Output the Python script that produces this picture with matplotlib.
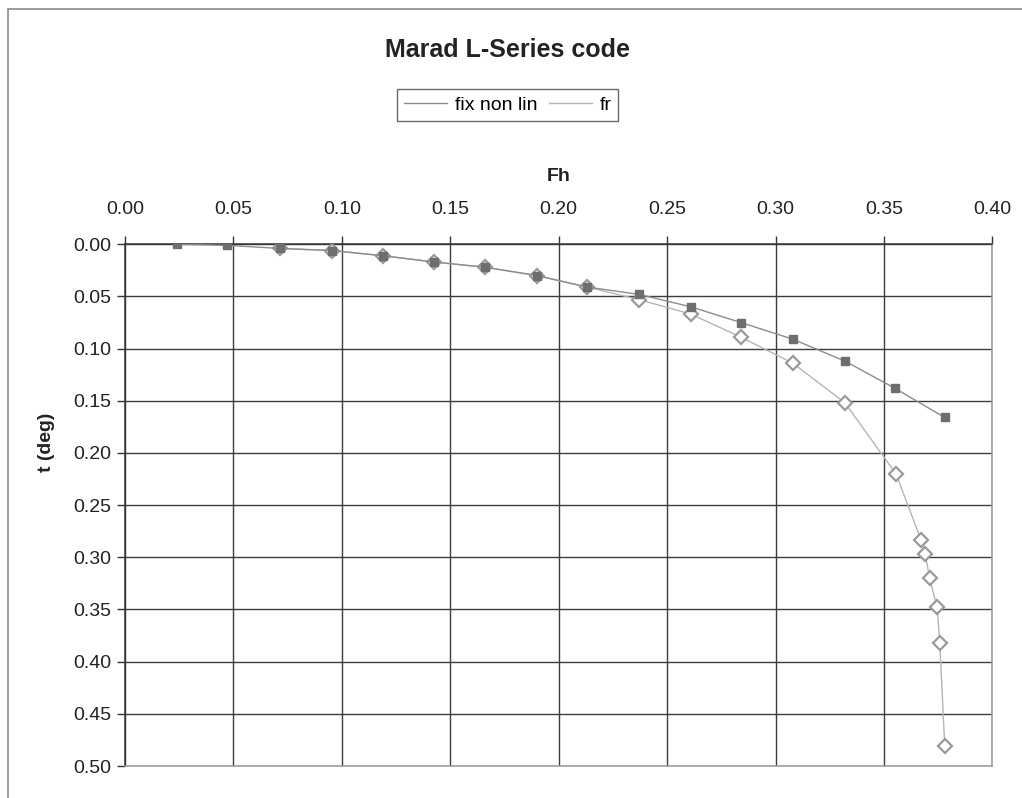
import matplotlib
matplotlib.use("Agg")
import matplotlib.pyplot as plt
from matplotlib.lines import Line2D
from matplotlib.patches import Rectangle

# Froude number (Fh) and trim t (deg)
fh_fix = [0.0238, 0.0469, 0.0715, 0.0953, 0.119, 0.1425, 0.166, 0.190,
          0.213, 0.237, 0.261, 0.284, 0.308, 0.332, 0.355, 0.378]
t_fix = [0.000, 0.001, 0.004, 0.006, 0.011, 0.017, 0.022, 0.030,
         0.041, 0.048, 0.060, 0.075, 0.091, 0.112, 0.138, 0.166]

fh_fr = [0.0715, 0.0953, 0.119, 0.1425, 0.166, 0.190, 0.213, 0.237,
         0.261, 0.284, 0.308, 0.332, 0.3555, 0.367, 0.369, 0.371,
         0.3745, 0.3757, 0.378]
t_fr = [0.004, 0.006, 0.011, 0.017, 0.022, 0.030, 0.041, 0.053,
        0.067, 0.089, 0.114, 0.152, 0.220, 0.283, 0.297, 0.320,
        0.348, 0.382, 0.481]

x_ticks = [0.00, 0.05, 0.10, 0.15, 0.20, 0.25, 0.30, 0.35, 0.40]
y_ticks = [0.00, 0.05, 0.10, 0.15, 0.20, 0.25, 0.30, 0.35, 0.40, 0.45, 0.50]

plt.rcParams['font.family'] = ['Liberation Sans', 'DejaVu Sans']

fig = plt.figure(figsize=(10.22, 7.98), dpi=100)
ax = fig.add_axes([0.1223, 0.0401, 0.8488, 0.6538])

# outer chart frame
fig.patches.append(Rectangle((8 / 1022, -0.05), 1.2, 1 - 9 / 798 + 0.05,
                             transform=fig.transFigure, fill=False,
                             edgecolor='#8a8a8a', lw=1.2, zorder=0))

ax.plot(fh_fr, t_fr, color='#b5b5b5', lw=1.0, zorder=3,
        marker='D', markersize=7, markerfacecolor='white',
        markeredgecolor='#9a9a9a', markeredgewidth=1.6)
ax.plot(fh_fix, t_fix, color='#8c8c8c', lw=1.0, zorder=4,
        marker='s', markersize=6, markerfacecolor='#6e6e6e',
        markeredgecolor='#6e6e6e')

ax.set_xlim(0, 0.40)
ax.set_ylim(0.50, 0.0)
ax.set_xticks(x_ticks)
ax.set_yticks(y_ticks)
ax.set_xticklabels([f"{v:.2f}" for v in x_ticks])
ax.set_yticklabels([f"{v:.2f}" for v in y_ticks])

ax.xaxis.tick_top()
ax.xaxis.set_label_position('top')
ax.tick_params(axis='x', direction='out', length=6, width=1, color='#333333',
               labelsize=14, pad=13, labelcolor='#222222')
ax.tick_params(axis='y', direction='out', length=6, width=1, color='#333333',
               labelsize=14, pad=4, labelcolor='#222222')

ax.grid(True, color='#3c3c3c', lw=1.0, zorder=1)
ax.set_axisbelow(True)

for side in ('top', 'left'):
    ax.spines[side].set_color('#333333')
    ax.spines[side].set_linewidth(1.1)
for side in ('right', 'bottom'):
    ax.spines[side].set_color('#9a9a9a')
    ax.spines[side].set_linewidth(1.1)

ax.set_xlabel('Fh', fontsize=14, fontweight='bold', color='#222222', labelpad=14)
ax.set_ylabel('t (deg)', fontsize=14, fontweight='bold', color='#222222')
ax.yaxis.set_label_coords(-0.081, 0.62)

fig.text(0.497, 1 - 50 / 798, 'Marad L-Series code', ha='center', va='center',
         fontsize=18, fontweight='bold', color='#222222')

handles = [Line2D([], [], color='#8c8c8c', lw=1.0),
           Line2D([], [], color='#b5b5b5', lw=1.0)]
leg = fig.legend(handles, ['fix non lin', 'fr'], loc='center',
                 bbox_to_anchor=(0.497, 1 - 105 / 798), ncol=2,
                 fontsize=14, frameon=True, fancybox=False,
                 handlelength=2.2, handletextpad=0.4, columnspacing=0.6,
                 borderpad=0.35, borderaxespad=0)
leg.get_frame().set_edgecolor('#444444')
leg.get_frame().set_linewidth(1.0)

fig.savefig('out.png', dpi=100)
